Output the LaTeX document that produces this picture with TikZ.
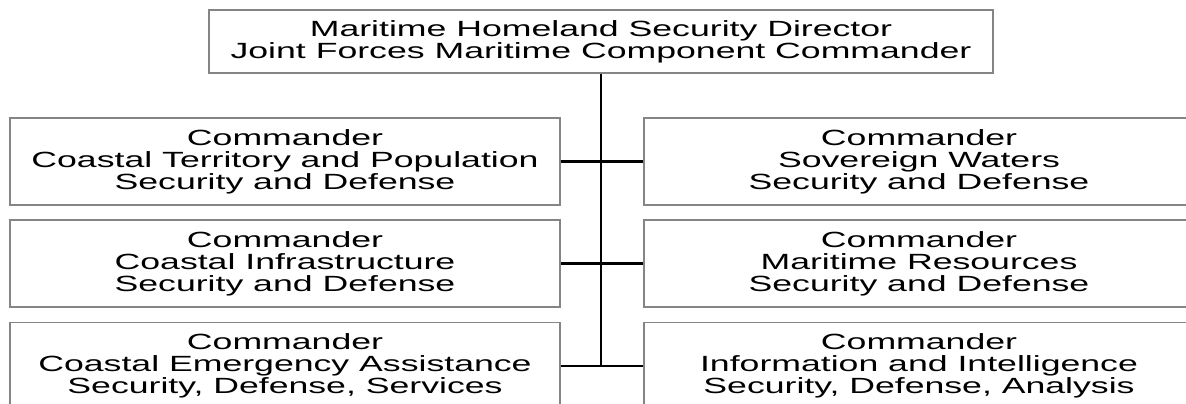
\documentclass[tikz,border=0pt]{standalone}
\usepackage{fontspec}
\setmainfont{Liberation Sans}[FakeStretch=1.62]
\usepackage{tikz}
\usetikzlibrary{positioning,calc}
\usepackage{xcolor}
\definecolor{boxgray}{HTML}{858585}
\tikzset{orgbox/.style={draw=boxgray,line width=1.5pt,fill=white,align=center,inner sep=0pt,font=\fontsize{22}{22}\selectfont},cmdbox/.style={orgbox,minimum width=550pt,minimum height=87pt},headbox/.style={orgbox,minimum width=784pt,minimum height=63pt},link/.style={draw=black,line width=2.2pt}}

\begin{document}
\begin{tikzpicture}[x=1pt,y=-1pt]
\clip (0,0) rectangle (1186,404);
\node[headbox] (mhsd) at (601,41.5) {Maritime Homeland Security Director\\Joint Forces Maritime Component Commander};
\node[cmdbox] (terr) at (285,161.5) {Commander\\Coastal Territory and Population\\Security and Defense};
\node[cmdbox] (infra) at (285,263.5) {Commander\\Coastal Infrastructure\\Security and Defense};
\node[cmdbox] (emerg) at (285,366) {Commander\\Coastal Emergency Assistance\\Security, Defense, Services};
\node[cmdbox] (waters) at (919,161.5) {Commander\\Sovereign Waters\\Security and Defense};
\node[cmdbox] (res) at (919,263.5) {Commander\\Maritime Resources\\Security and Defense};
\node[cmdbox] (intel) at (919,366) {Commander\\Information and Intelligence\\Security, Defense, Analysis};
\draw[link] (mhsd.south) -- (mhsd.south |- emerg.east);
\draw[link] (terr.east) -- (waters.west);
\draw[link] (infra.east) -- (res.west);
\draw[link] (emerg.east) -- (intel.west);
\end{tikzpicture}
\end{document}
